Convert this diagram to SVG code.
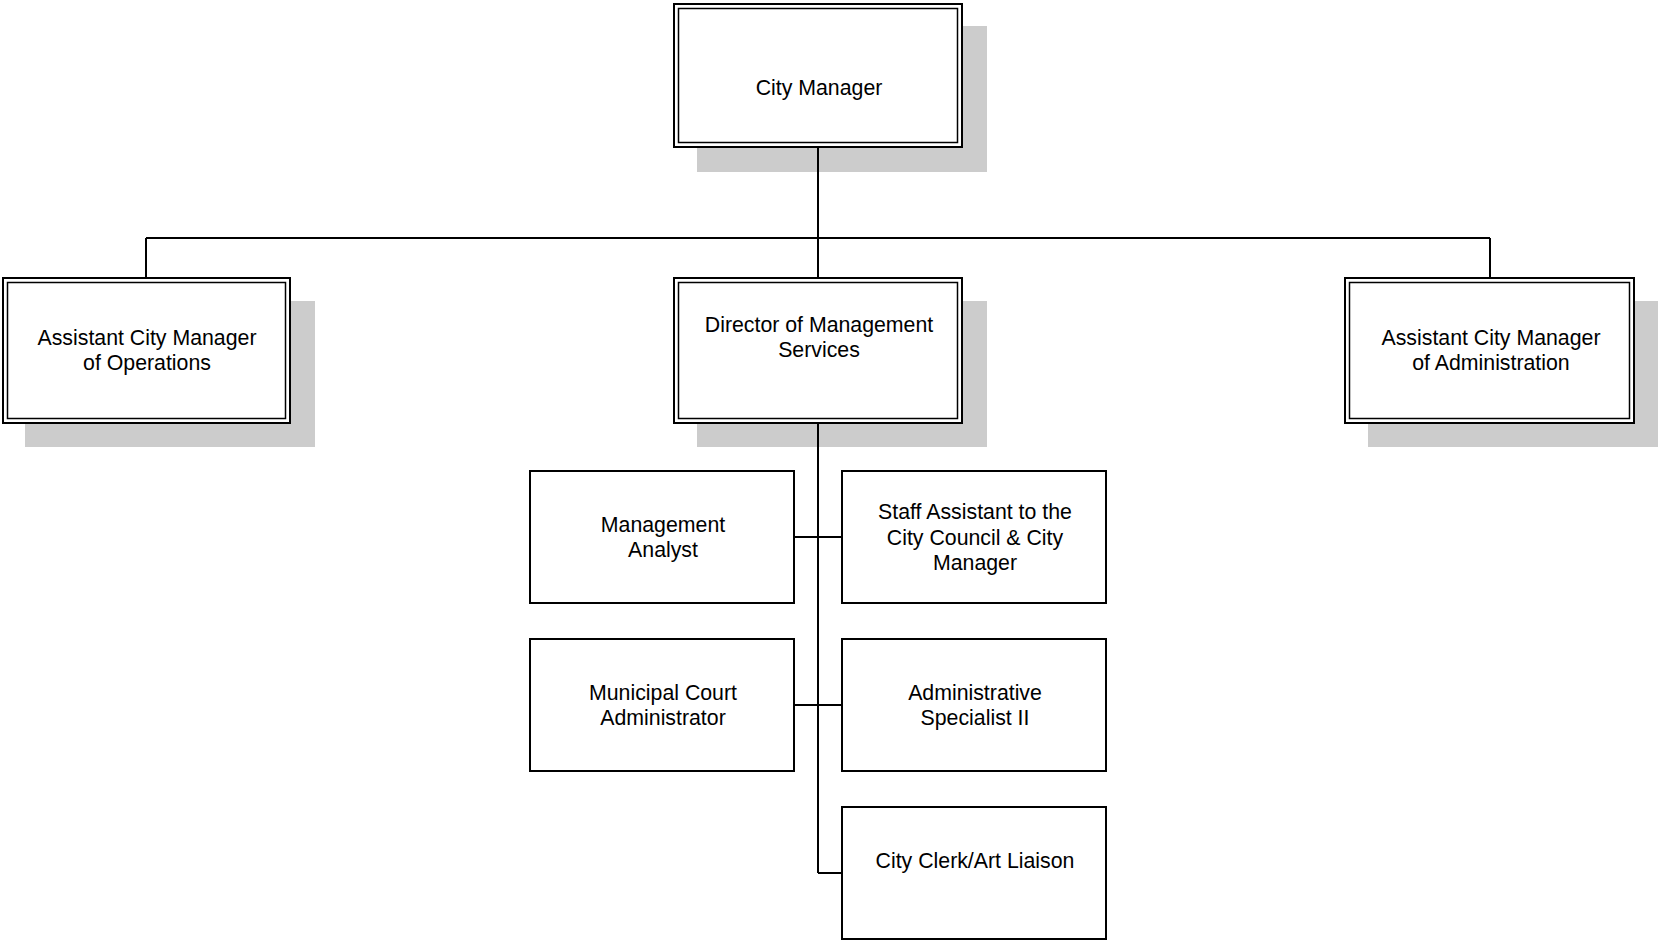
<svg xmlns="http://www.w3.org/2000/svg" width="1658" height="941" viewBox="0 0 1658 941">
<style>
.bg{fill:#ffffff}
.sh{fill:#cccccc;stroke:none}
.o{fill:#ffffff;stroke:#000000;stroke-width:2}
.i{fill:none;stroke:#000000;stroke-width:1.5}
.b{fill:#ffffff;stroke:#000000;stroke-width:2}
.c{fill:none;stroke:#000000;stroke-width:2}
text{font-family:"Liberation Sans",Arial,sans-serif;font-size:21.3px;fill:#000000;text-anchor:middle}
</style>
<rect class="bg" x="0" y="0" width="1658" height="941"/>
<g id="city-manager">
<rect class="sh" x="697" y="26" width="290" height="146"/>
<rect class="o" x="674" y="4" width="288" height="143"/>
<rect class="i" x="678.5" y="8.5" width="279" height="134"/>
<text x="819" y="95">City Manager</text>
</g>
<g id="acm-operations">
<rect class="sh" x="25" y="301" width="290" height="146"/>
<rect class="o" x="3" y="278" width="287" height="145"/>
<rect class="i" x="7.5" y="282.5" width="278" height="136"/>
<text x="147" y="345">Assistant City Manager</text>
<text x="147" y="370">of Operations</text>
</g>
<g id="director-management-services">
<rect class="sh" x="697" y="301" width="290" height="146"/>
<rect class="o" x="674" y="278" width="288" height="145"/>
<rect class="i" x="678.5" y="282.5" width="279" height="136"/>
<text x="819" y="332">Director of Management</text>
<text x="819" y="357">Services</text>
</g>
<g id="acm-administration">
<rect class="sh" x="1368" y="301" width="290" height="146"/>
<rect class="o" x="1345" y="278" width="289" height="145"/>
<rect class="i" x="1349.5" y="282.5" width="280" height="136"/>
<text x="1491" y="345">Assistant City Manager</text>
<text x="1491" y="370">of Administration</text>
</g>
<g id="management-analyst">
<rect class="b" x="530" y="471" width="264" height="132"/>
<text x="663" y="532">Management</text>
<text x="663" y="557">Analyst</text>
</g>
<g id="staff-assistant">
<rect class="b" x="842" y="471" width="264" height="132"/>
<text x="975" y="519">Staff Assistant to the</text>
<text x="975" y="544.5">City Council &amp; City</text>
<text x="975" y="570">Manager</text>
</g>
<g id="municipal-court">
<rect class="b" x="530" y="639" width="264" height="132"/>
<text x="663" y="700">Municipal Court</text>
<text x="663" y="725">Administrator</text>
</g>
<g id="admin-specialist">
<rect class="b" x="842" y="639" width="264" height="132"/>
<text x="975" y="700">Administrative</text>
<text x="975" y="725">Specialist II</text>
</g>
<g id="city-clerk">
<rect class="b" x="842" y="807" width="264" height="132"/>
<text x="975" y="868">City Clerk/Art Liaison</text>
</g>
<g id="connectors">
<path class="c" d="M818 147 V278"/>
<path class="c" d="M146 238 H1490"/>
<path class="c" d="M146 238 V278"/>
<path class="c" d="M1490 238 V278"/>
<path class="c" d="M818 423 V873"/>
<path class="c" d="M794 537 H842"/>
<path class="c" d="M794 705 H842"/>
<path class="c" d="M818 873 H842"/>
</g>
</svg>
